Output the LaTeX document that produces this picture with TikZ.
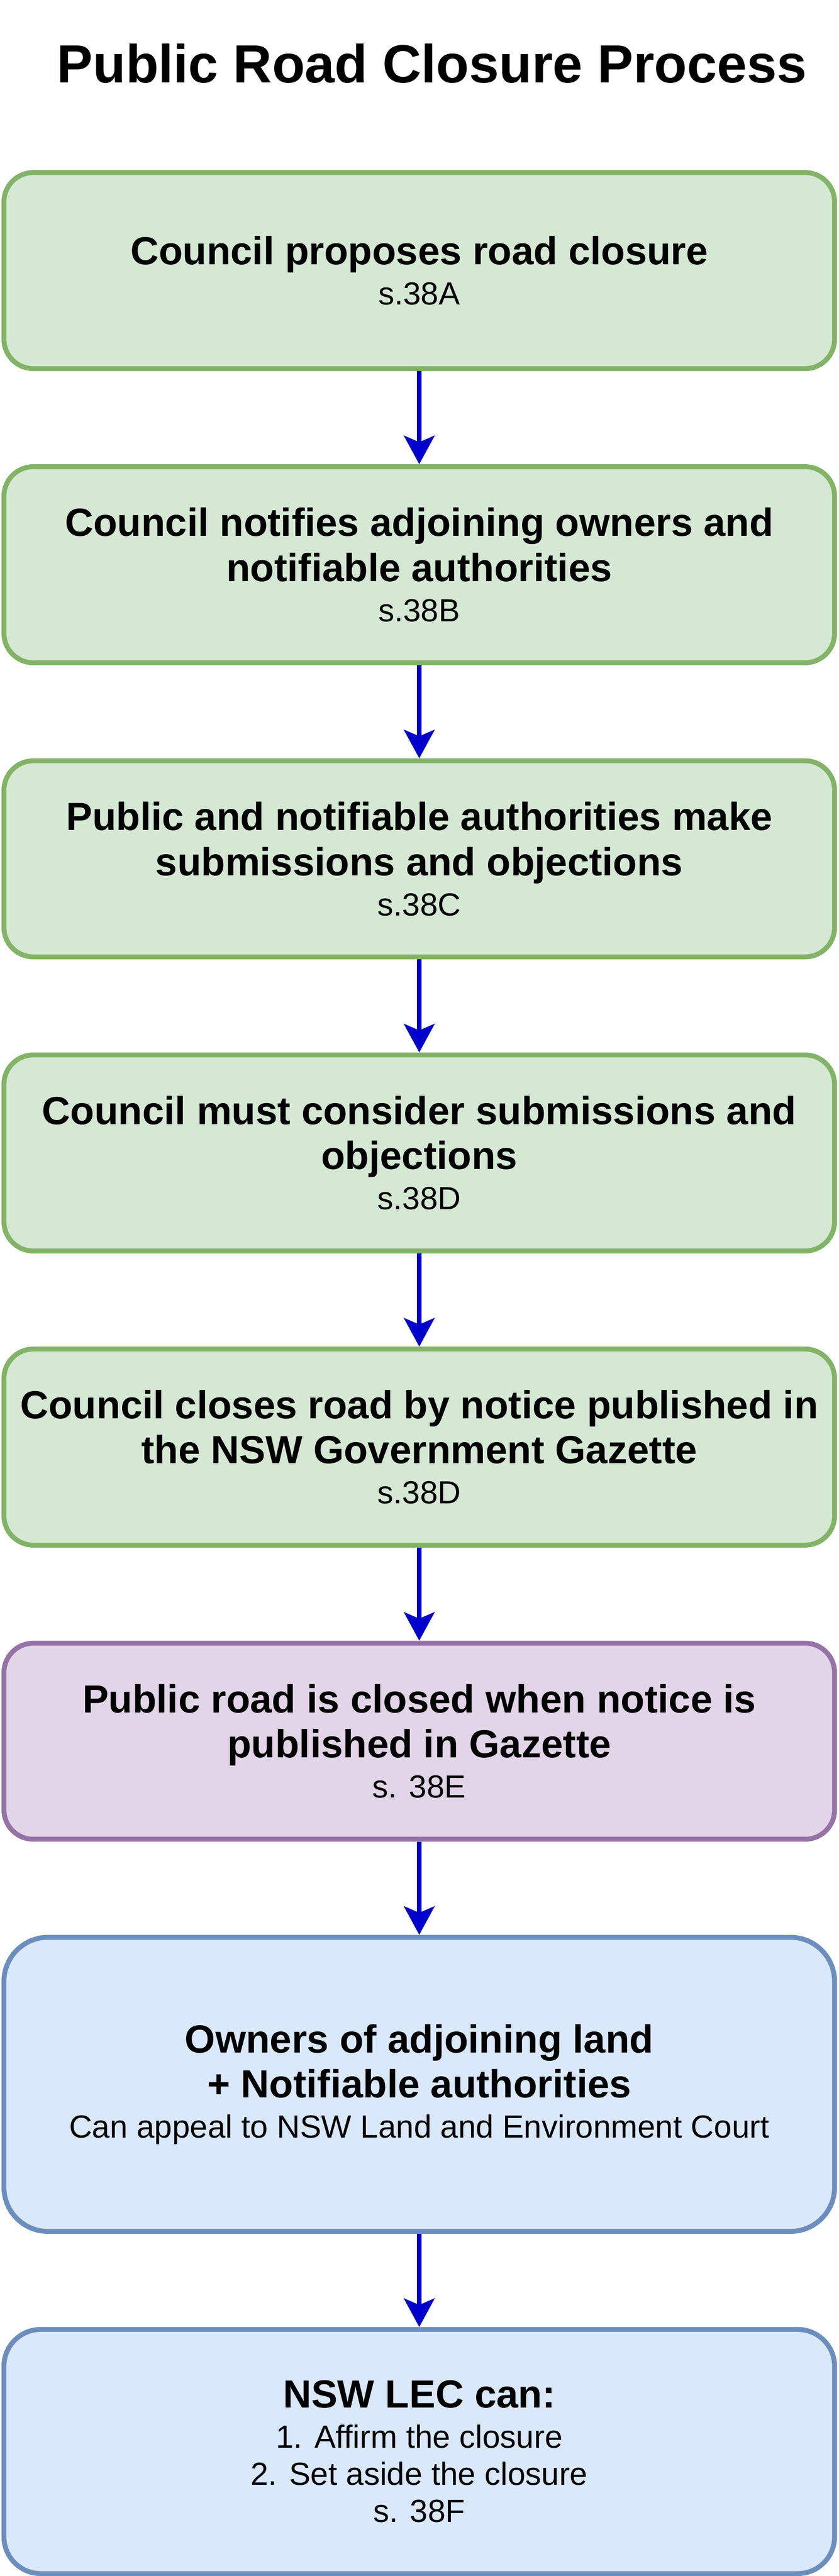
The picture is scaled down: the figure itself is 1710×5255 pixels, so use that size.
\documentclass[tikz,border=0pt]{standalone}
\usepackage{fontspec}
\setmainfont{Liberation Sans}
\usetikzlibrary{arrows.meta}

\definecolor{greenfill}{HTML}{D5E8D4}
\definecolor{greenline}{HTML}{82B366}
\definecolor{purplefill}{HTML}{E1D5E7}
\definecolor{purpleline}{HTML}{9673A6}
\definecolor{bluefill}{HTML}{DAE8FC}
\definecolor{blueline}{HTML}{6C8EBF}
\definecolor{arrowblue}{HTML}{0000CC}

\newcommand{\secline}[1]{\\[-2.5pt]\fontsize{16.3}{19.4}\selectfont\mdseries #1}
\newcommand{\subline}[1]{\\[-4pt]\fontsize{16.3}{19.4}\selectfont\mdseries #1}

\begin{document}
\begin{tikzpicture}[x=0.25pt,y=0.25pt,yscale=-1,xscale=1,
	stagebox/.style={draw, line width=2.5pt, rounded corners=15pt, minimum width=423.5pt, minimum height=100pt, inner sep=0pt, align=center, font=\fontsize{20}{23}\selectfont\bfseries},
	greenbox/.style={stagebox, draw=greenline, fill=greenfill},
	purplebox/.style={stagebox, draw=purpleline, fill=purplefill},
	bluebox/.style={stagebox, draw=blueline, fill=bluefill},
	flowarrow/.style={draw=arrowblue, line width=2.5pt, -{Stealth[length=14.5pt,width=15.5pt,inset=3.25pt,fill=arrowblue]}}]
		\useasboundingbox (0,0) rectangle (1710,5255);
		
		% Text Node
		\node (title) [anchor=base, font=\fontsize{27.4}{32}\selectfont\bfseries] at (881,169) {Public Road Closure Process};
		
		%Shape: Rounded Rect [id:propose]
		\node (propose) [greenbox] at (855,552) {Council proposes road closure\secline{s.38A}};
		%Shape: Rounded Rect [id:notify]
		\node (notify) [greenbox] at (855,1152) {Council notifies adjoining owners and\\notifiable authorities\secline{s.38B}};
		%Shape: Rounded Rect [id:submit]
		\node (submit) [greenbox] at (855,1752) {Public and notifiable authorities make\\submissions and objections\secline{s.38C}};
		%Shape: Rounded Rect [id:consider]
		\node (consider) [greenbox] at (855,2352) {Council must consider submissions and\\objections\secline{s.38D}};
		%Shape: Rounded Rect [id:gazette]
		\node (gazette) [greenbox] at (855,2952) {Council closes road by notice published in\\the NSW Government Gazette\secline{s.38D}};
		%Shape: Rounded Rect [id:closed]
		\node (closed) [purplebox] at (855,3552) {Public road is closed when notice is\\published in Gazette\secline{s. 38E}};
		%Shape: Rounded Rect [id:appeal]
		\node (appeal) [bluebox, minimum height=150pt, rounded corners=22.5pt] at (855,4252) {Owners of adjoining land\\+ Notifiable authorities\secline{Can appeal to NSW Land and Environment Court}};
		%Shape: Rounded Rect [id:lec]
		\node (lec) [bluebox, minimum height=124.5pt, rounded corners=18.75pt] at (855,5001) {NSW LEC can:\secline{1. Affirm the closure}\subline{2. Set aside the closure}\subline{s. 38F}};
		
		%Straight Lines
		\draw [flowarrow] (propose.south) -- (notify.north);
		\draw [flowarrow] (notify.south) -- (submit.north);
		\draw [flowarrow] (submit.south) -- (consider.north);
		\draw [flowarrow] (consider.south) -- (gazette.north);
		\draw [flowarrow] (gazette.south) -- (closed.north);
		\draw [flowarrow] (closed.south) -- (appeal.north);
		\draw [flowarrow] (appeal.south) -- (lec.north);
		
\end{tikzpicture}
\end{document}
